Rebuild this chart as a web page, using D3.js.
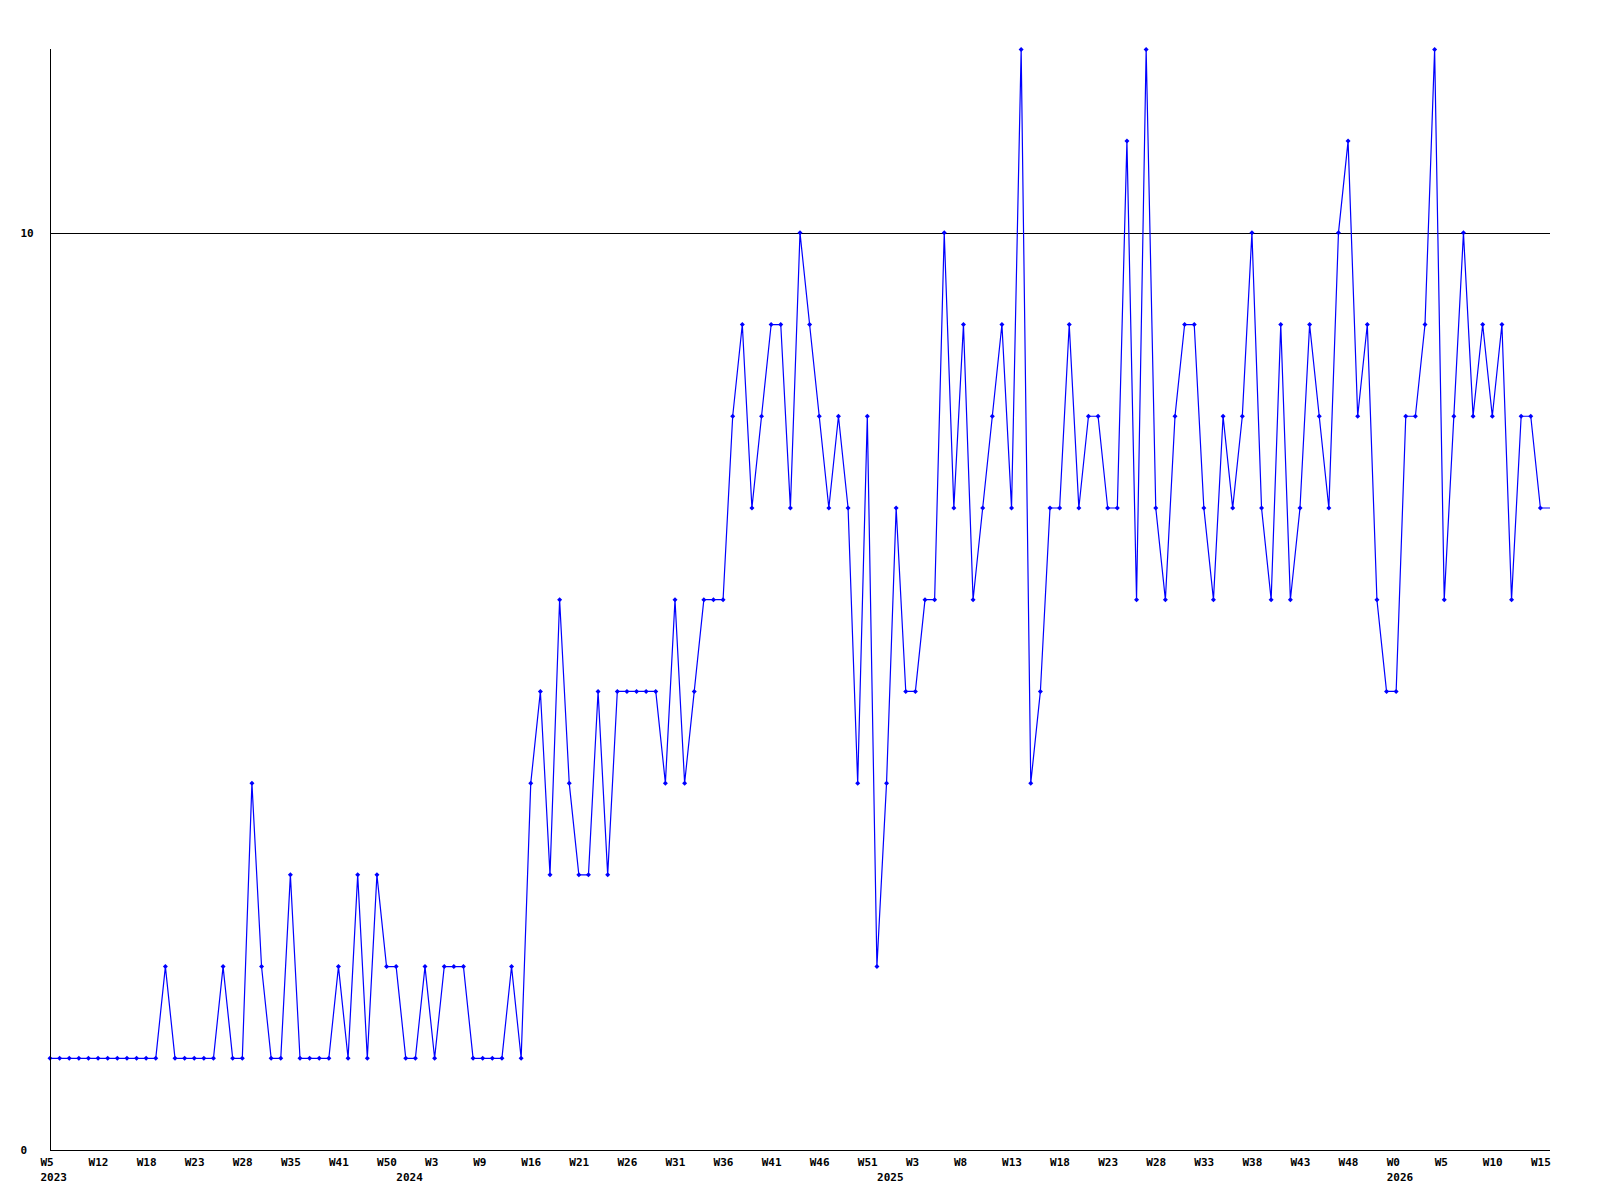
<!DOCTYPE html>
<html>
<head>
<meta charset="utf-8">
<script src="https://cdn.jsdelivr.net/npm/d3@7"></script>
<style>
  html, body { margin: 0; padding: 0; background: #ffffff; }
  svg { display: block; }
  text { font-family: "DejaVu Sans Mono", "Liberation Mono", monospace; font-weight: bold; font-size: 11px; fill: #000; }
</style>
</head>
<body>
<svg id="chart" width="1600" height="1200"></svg>
<script>
// ---- data (one value per plotted week, left to right) ----
const values = [
  1,1,1,1,1,1,1,1,1,1,1,1,2,1,1,1,1,1,2,1,
  1,4,2,1,1,3,1,1,1,1,2,1,3,1,3,2,2,1,1,2,
  1,2,2,2,1,1,1,1,2,1,4,5,3,6,4,3,3,5,3,5,
  5,5,5,5,4,6,4,5,6,6,6,8,9,7,8,9,9,7,10,9,
  8,7,8,7,4,8,2,4,7,5,5,6,6,10,7,9,6,7,8,9,
  7,12,4,5,7,7,9,7,8,8,7,7,11,6,12,7,6,8,9,9,
  7,6,8,7,8,10,7,6,9,6,7,9,8,7,10,11,8,9,6,5,
  5,8,8,9,12,6,8,10,8,9,8,9,6,8,8,7,7
];
// x tick labels, one every 5 points starting at the first point
const weekLabels = ["W5","W12","W18","W23","W28","W35","W41","W50","W3","W9","W16",
  "W21","W26","W31","W36","W41","W46","W51","W3","W8","W13","W18","W23","W28",
  "W33","W38","W43","W48","W0","W5","W10","W15"];
const tickEvery = 5;
const yearLabels = ["2023","2024","2025","2026"];
const yearStartIndex = [0, 37, 87, 140];
const yTickValues = [0, 10];
const yMax = 12;
const refLine = 10;

// ---- layout ----
const mLeft = 50, mRight = 1550, mTop = 49.4, mBottom = 1150;
const svg = d3.select("#chart");

const x = d3.scaleLinear().domain([0, values.length - 1]).range([mLeft, mRight]);
const y = d3.scaleLinear().domain([0, yMax]).range([mBottom, mTop]);

// reference line at 10
svg.append("line")
  .attr("x1", mLeft).attr("x2", mRight)
  .attr("y1", Math.round(y(refLine)) + 0.5).attr("y2", Math.round(y(refLine)) + 0.5)
  .attr("stroke", "#000").attr("stroke-width", 1).attr("shape-rendering", "crispEdges");

// data line
const line = d3.line().x((d, i) => x(i)).y(d => y(d));
svg.append("path")
  .datum(values)
  .attr("d", line)
  .attr("fill", "none")
  .attr("stroke", "#0000ff")
  .attr("stroke-width", 1.2);

// markers (last point is at the plot edge, unmarked)
svg.append("g").selectAll("path")
  .data(values.slice(0, values.length - 1))
  .join("path")
  .attr("d", (d, i) => {
    const cx = x(i), cy = y(d), r = 2.5;
    return `M${cx - r},${cy}L${cx},${cy - r}L${cx + r},${cy}L${cx},${cy + r}Z`;
  })
  .attr("fill", "#0000ff");

// y axis
const yAxis = d3.axisLeft(y).tickValues(yTickValues).tickSize(0).tickFormat(d3.format("d"));
const gy = svg.append("g").attr("transform", `translate(${mLeft + 0.5},0)`).call(yAxis);
gy.select(".domain").attr("stroke", "#000").attr("stroke-width", 1).attr("shape-rendering", "crispEdges")
  .attr("d", `M0,${mTop}V${mBottom + 0.5}`);
gy.selectAll(".tick text")
  .attr("x", -30).attr("dy", "0.35em")
  .attr("text-anchor", "start")
  .attr("font-family", null).attr("font-size", null);

// x axis (week labels)
const tickIdx = weekLabels.map((_, k) => k * tickEvery);
const xAxis = d3.axisBottom(x).tickValues(tickIdx).tickSize(0)
  .tickFormat((d) => weekLabels[d / tickEvery]);
const gx = svg.append("g").attr("transform", `translate(0,${mBottom + 0.5})`).call(xAxis);
gx.select(".domain").attr("stroke", "#000").attr("stroke-width", 1).attr("shape-rendering", "crispEdges")
  .attr("d", `M${mLeft},0H${mRight}`);
gx.selectAll(".tick text")
  .attr("x", -10).attr("y", 12).attr("dy", "0.35em")
  .attr("text-anchor", "start")
  .attr("font-family", null).attr("font-size", null);

// year labels
const yearAxis = d3.axisBottom(x).tickValues(yearStartIndex).tickSize(0)
  .tickFormat((d, k) => yearLabels[k]);
const gyr = svg.append("g").attr("transform", `translate(0,${mBottom + 0.5})`).call(yearAxis);
gyr.select(".domain").remove();
gyr.selectAll(".tick text")
  .attr("x", -10).attr("y", 27).attr("dy", "0.35em")
  .attr("text-anchor", "start")
  .attr("font-family", null).attr("font-size", null);
</script>
</body>
</html>
